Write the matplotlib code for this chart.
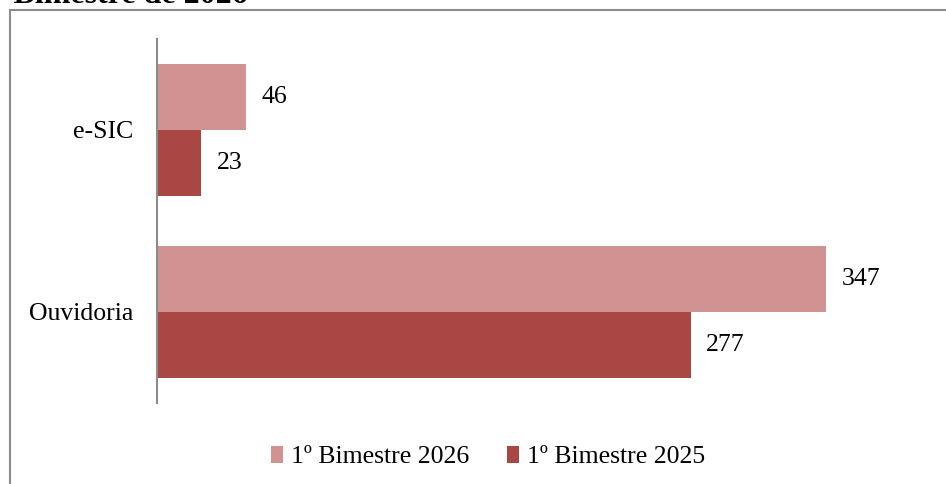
import matplotlib.pyplot as plt
from matplotlib.patches import Rectangle
import numpy as np

# Dados
categorias = ['Ouvidoria', 'e-SIC']
valores_2026 = [347, 46]
valores_2025 = [277, 23]
series = ['1º Bimestre 2026', '1º Bimestre 2025']
cores = ['#D19292', '#A94745']

plt.rcParams['font.family'] = ['Liberation Serif', 'DejaVu Serif']

fig = plt.figure(figsize=(9.46, 4.84), dpi=100)

# Moldura (só as bordas esquerda e superior ficam visíveis)
fig.patches.append(Rectangle((9.5 / 946, -0.1), 1.2, 1 - 10.5 / 484 + 0.1,
                             transform=fig.transFigure, fill=False,
                             edgecolor='#8c8c8c', linewidth=1.5))

# Título cortado no topo
fig.text(248 / 946, 1 - 3 / 484, '1º Bimestre de 2026', ha='right', va='baseline',
         fontsize=23, fontweight='bold', transform=fig.transFigure)

ax = fig.add_axes([157 / 946, 1 - 403 / 484, (928 - 157) / 946, (403 - 39) / 484])

y = np.arange(len(categorias))
h = 0.365
b1 = ax.barh(y + h / 2, valores_2026, height=h, color=cores[0], label=series[0])
b2 = ax.barh(y - h / 2, valores_2025, height=h, color=cores[1], label=series[1])

for barras in (b1, b2):
    for barra in barras:
        ax.text(barra.get_width() + 8, barra.get_y() + barra.get_height() / 2,
                f'{int(barra.get_width())}', va='center', ha='left', fontsize=18.5)

ax.set_xlim(0, 400)
ax.set_ylim(-0.5, 1.5)
ax.set_yticks(y)
ax.set_yticklabels(categorias, fontsize=18.5)
ax.tick_params(axis='y', length=0, pad=17)
ax.set_xticks([])
for lado in ['top', 'right', 'bottom']:
    ax.spines[lado].set_visible(False)
ax.spines['left'].set_color('#8c8c8c')
ax.spines['left'].set_linewidth(1.5)

fig.legend(handles=[b1, b2], labels=series, loc='center',
           bbox_to_anchor=(488 / 946, 1 - 457 / 484), ncol=2, frameon=False,
           fontsize=18.5, handlelength=0.45, handleheight=0.7, handletextpad=0.3,
           columnspacing=1.5)

plt.savefig('out.png', dpi=100)
plt.close()
